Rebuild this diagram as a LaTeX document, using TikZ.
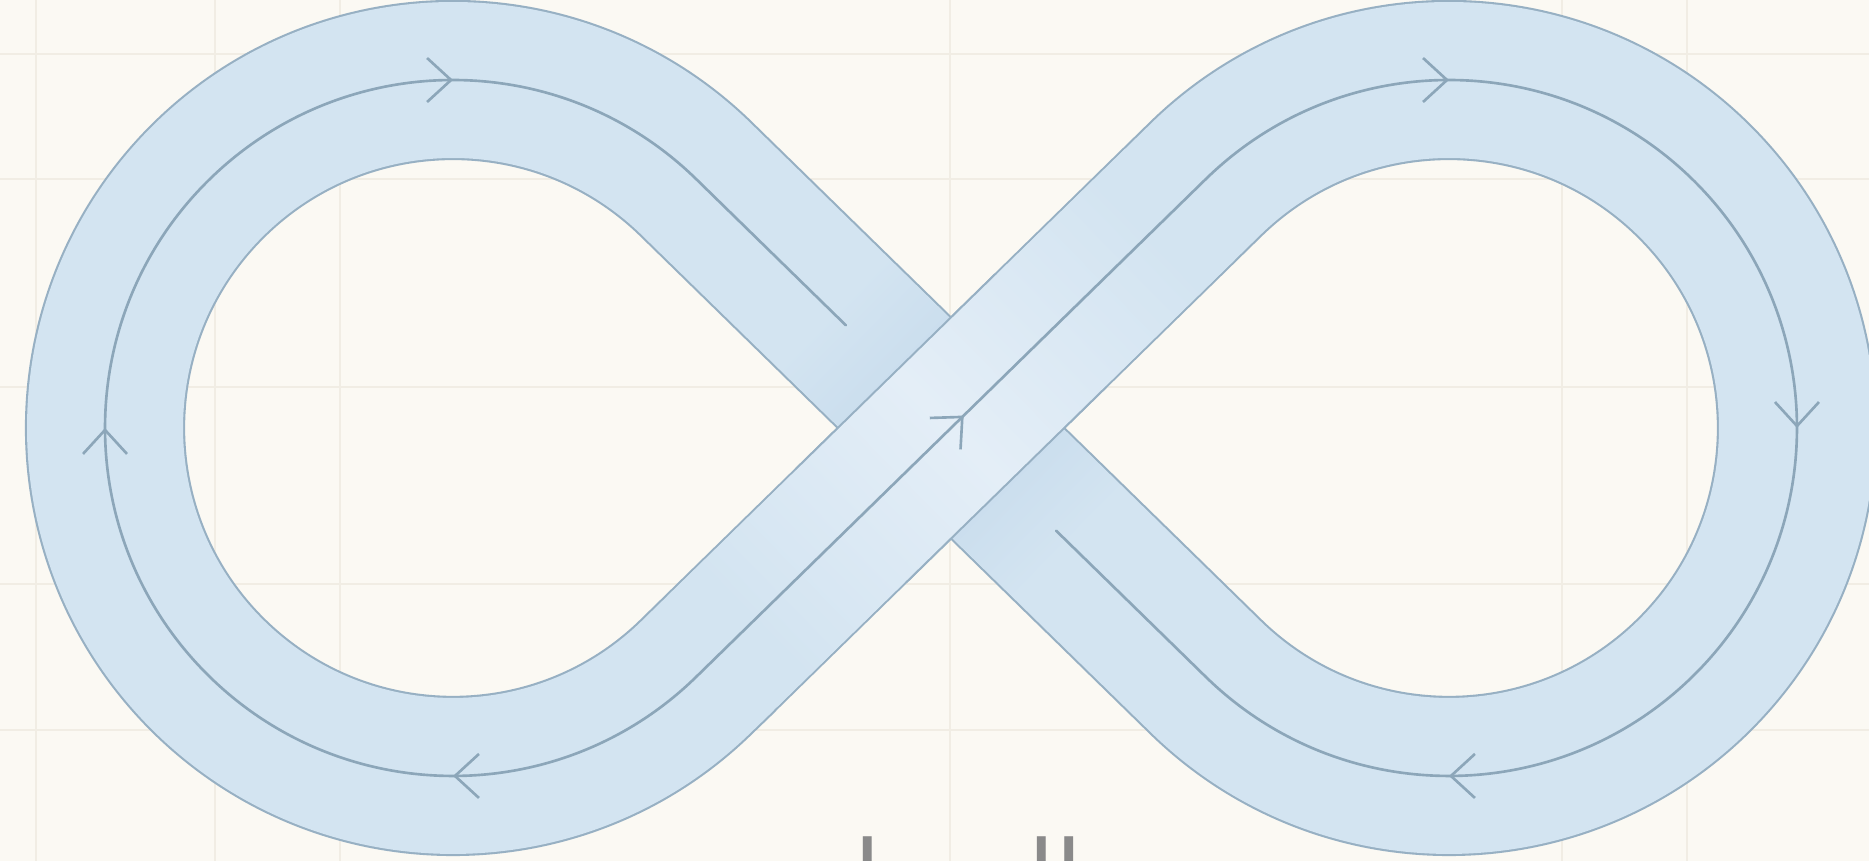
\documentclass[tikz,border=0pt]{standalone}
\usepackage{fontspec}
\newfontfamily\arabicfont[Script=Arabic]{DejaVu Sans}
\TeXXeTstate=1
\usetikzlibrary{arrows.meta,calc,decorations.markings}

\definecolor{paper}{HTML}{FBF9F3}
\definecolor{gridline}{HTML}{F1EDE4}
\definecolor{bandfill}{HTML}{D3E4F1}
\definecolor{bandlight}{HTML}{E4EEF7}
\definecolor{bandshadow}{HTML}{C4D9EB}
\definecolor{bandedge}{HTML}{97B0C3}
\definecolor{midcol}{HTML}{8CA6B9}
\definecolor{labelgray}{HTML}{8A8A8A}

\begin{document}
\begin{tikzpicture}[
ribbon/.style={
line width=0.6pt,
draw=bandedge,
double=bandfill,
double distance=1.56cm
},
midline/.style={
line width=0.75pt,
draw=midcol,
color=midcol,
line cap=round
},
loopflow/.style={
postaction=decorate,
decoration={markings,
mark=at position 0.165 with {\arrow{Straight Barb[length=2.4mm,width=4.4mm]}},
mark=at position 0.5 with {\arrow{Straight Barb[length=2.4mm,width=4.4mm]}},
mark=at position 0.835 with {\arrow{Straight Barb[length=2.4mm,width=4.4mm]}}}
},
crossflow/.style={
postaction=decorate,
decoration={markings,
mark=at position 0.525 with {\arrow{Straight Barb[length=2.4mm,width=4.4mm]}}}
},
captiontext/.style={
anchor=north,
inner sep=0pt,
text=labelgray,
font=\arabicfont\fontsize{28}{32}\selectfont
}
]

\useasboundingbox (0,0) rectangle (18.69,8.61);
\clip (0,0) rectangle (18.69,8.61);


% Paper

\fill[paper] (0,0) rectangle (18.69,8.61);

\foreach \gx in {0.36,2.15,3.40,9.50,15.62,16.87}
  \draw[gridline, line width=0.8pt] (\gx,0) -- (\gx,8.61);
\foreach \gy in {8.07,6.82,4.74,2.77,1.31}
  \draw[gridline, line width=0.8pt] (0,\gy) -- (18.69,\gy);


% Loop geometry

\coordinate (crossing) at (9.51,4.33);
\coordinate (leftcenter) at (4.53,4.33);
\coordinate (rightcenter) at (14.49,4.33);

\coordinate (leftup) at ($(leftcenter)+(45.67:3.48)$);
\coordinate (leftdown) at ($(leftcenter)+(-45.67:3.48)$);
\coordinate (rightup) at ($(rightcenter)+(134.33:3.48)$);
\coordinate (rightdown) at ($(rightcenter)+(-134.33:3.48)$);


% Ribbon

\draw[ribbon] (leftdown) -- (rightup)
  arc[start angle=134.33, end angle=-134.33, radius=3.48]
  -- (leftup)
  arc[start angle=45.67, end angle=314.33, radius=3.48]
  -- cycle;

% shadow on the lower strand
\begin{scope}[shift={(crossing)}, rotate=-44.33]
  \shade[left color=bandfill, right color=bandfill, middle color=bandshadow,
    shading angle=45.67]
    (-1.6,-0.775) rectangle (1.6,0.775);
\end{scope}

% strand on top at the crossing
\draw[bandedge, line width=1.56cm+1.2pt]
  ($(crossing)!1.4cm!(leftdown)$) -- ($(crossing)!1.4cm!(rightup)$);
\begin{scope}[shift={(crossing)}, rotate=44.33]
  \shade[left color=bandfill, right color=bandfill, middle color=bandlight,
    shading angle=134.33]
    (-3.2,-0.78) rectangle (3.2,0.78);
\end{scope}


% Centre line

\draw[midline] (leftup) -- ($(crossing)!1.47cm!(leftup)$);
\draw[midline] ($(crossing)!1.47cm!(rightdown)$) -- (rightdown);

\draw[midline, loopflow] (leftdown)
  arc[start angle=-45.67, end angle=-314.33, radius=3.48];
\draw[midline, loopflow] (rightup)
  arc[start angle=134.33, end angle=-134.33, radius=3.48];

\draw[midline, crossflow] (leftdown) -- (rightup);


% Caption

\node (caption) [captiontext] at (9.46,0.25) {\beginR التحول\endR};

\end{tikzpicture}
\end{document}
